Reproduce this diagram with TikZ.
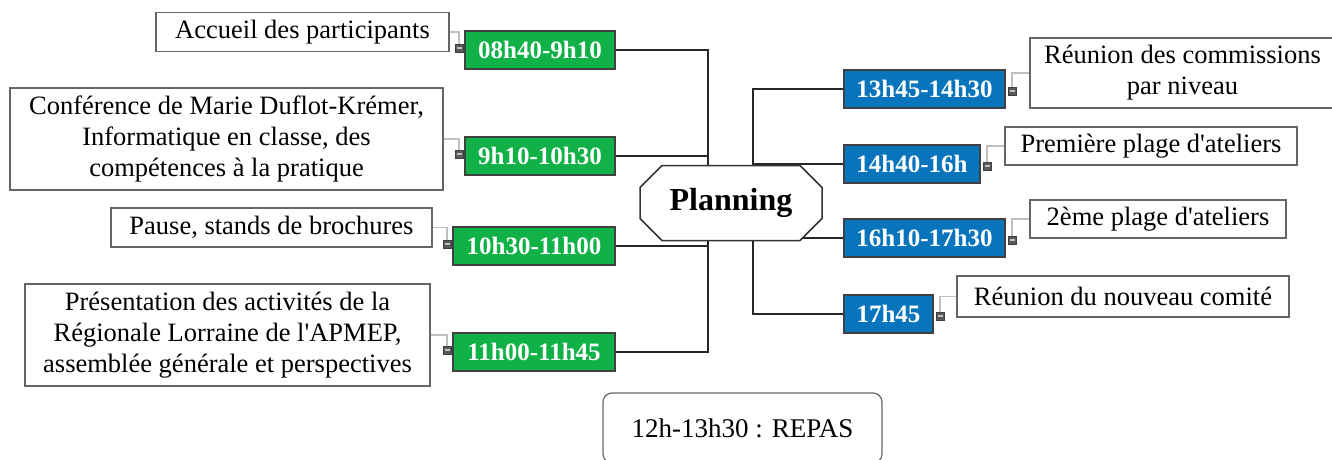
\documentclass[tikz,border=0pt]{standalone}
\usepackage{fontspec}
\setmainfont{Liberation Serif}
\newfontfamily\apfont{Liberation Serif}
\usetikzlibrary{shapes.misc,calc}
\definecolor{gfill}{RGB}{16,178,72}
\definecolor{bfill}{RGB}{8,116,188}
\newcommand\myapos{{\apfont'}}
\tikzset{
  txt/.style={draw=black!60, line width=1.2pt, fill=white, font=\fontsize{26.5}{31}\selectfont, align=center, inner sep=0pt},
  gbox/.style={draw=black!75, line width=1.2pt, fill=gfill, text=white, font=\fontsize{25}{28}\selectfont\bfseries, minimum height=38pt, inner sep=0pt},
  bbox/.style={gbox, fill=bfill},
  hdl/.style={draw=black!75, fill=black!65, minimum size=8pt, inner sep=0pt, line width=0.6pt},
  conn/.style={line width=2pt, black!85},
  lconn/.style={line width=1.3pt, black!25},
}
\begin{document}
\begin{tikzpicture}[x=1pt,y=-1pt]
\useasboundingbox (0,0) rectangle (1332,460);
% trunk coordinates
\coordinate (L1) at (708,50);
\coordinate (L2) at (708,156);
\coordinate (L3) at (708,246);
\coordinate (L4) at (708,352);
\coordinate (R1) at (753,89);
\coordinate (R2) at (753,164);
\coordinate (R3) at (753,238);
\coordinate (R4) at (753,314);
% green boxes
\node[gbox, minimum width=150pt] (g1) at (540,50) {08h40-9h10};
\node[gbox, minimum width=150pt] (g2) at (540,156) {9h10-10h30};
\node[gbox, minimum width=162pt] (g3) at (534,246) {10h30-11h00};
\node[gbox, minimum width=162pt] (g4) at (534,352) {11h00-11h45};
% blue boxes
\node[bbox, minimum width=161pt] (b1) at (924.5,89) {13h45-14h30};
\node[bbox, minimum width=136pt] (b2) at (912,164) {14h40-16h};
\node[bbox, minimum width=161pt] (b3) at (924.5,238) {16h10-17h30};
\node[bbox, minimum width=89pt] (b4) at (888.5,314) {17h45};
% trunks
\draw[conn] (g1.east) -- (L1) -- (L4) -- (g4.east);
\draw[conn] (g2.east) -- (L2);
\draw[conn] (g3.east) -- (L3);
\draw[conn] (b1.west) -- (R1) -- (R4) -- (b4.west);
\draw[conn] (b2.west) -- (R2);
\draw[conn] (b3.west) -- (R3);
% central node
\node[chamfered rectangle, chamfered rectangle xsep=11pt, chamfered rectangle ysep=11pt,
      draw=black!80, line width=1.5pt, fill=white,
      minimum width=182pt, minimum height=75pt, inner sep=0pt,
      font=\fontsize{32}{36}\selectfont\bfseries] (plan) at (731,203) {Planning};
% text boxes left
\node[txt, minimum width=293pt, minimum height=39pt] (t1) at (302.5,32) {Accueil des participants};
\node[txt, minimum width=433pt, minimum height=102pt] (t2) at (226.5,139) {Conférence de Marie Duflot-Krémer,\\Informatique en classe, des\\compétences à la pratique};
\node[txt, minimum width=321pt, minimum height=39pt] (t3) at (271.5,227.5) {Pause, stands de brochures};
\node[txt, minimum width=405pt, minimum height=102pt] (t4) at (227.5,335) {Présentation des activités de la\\Régionale Lorraine de l\myapos APMEP,\\assemblée générale et perspectives};
% text boxes right
\node[txt, minimum width=305pt, minimum height=70pt] (u1) at (1182.5,73) {Réunion des commissions\\par niveau};
\node[txt, minimum width=292pt, minimum height=38pt] (u2) at (1151,146) {Première plage d\myapos ateliers};
\node[txt, minimum width=256pt, minimum height=38pt] (u3) at (1158,219) {2ème plage d\myapos ateliers};
\node[txt, minimum width=332pt, minimum height=41pt] (u4) at (1123,296.5) {Réunion du nouveau comité};
% handles
\node[hdl] (h1) at (459,48) {};
\node[hdl] (h2) at (459,154) {};
\node[hdl] (h3) at (447,244) {};
\node[hdl] (h4) at (447,350) {};
\node[hdl] (k1) at (1012,91) {};
\node[hdl] (k2) at (987,166) {};
\node[hdl] (k3) at (1012,240) {};
\node[hdl] (k4) at (940,316) {};
% light connectors
\draw[lconn] (t1.east) -| (h1.north);
\draw[lconn] (t2.east) -| (h2.north);
\draw[lconn] (t3.east) -| (h3.north);
\draw[lconn] (t4.east) -| (h4.north);
\draw[lconn] (k1.north) |- (u1.west);
\draw[lconn] (k2.north) |- (u2.west);
\draw[lconn] (k3.north) |- (u3.west);
\draw[lconn] (k4.north) |- (u4.west);
% handle marks
\foreach \h in {h1,h2,h3,h4,k1,k2,k3,k4}{
  \fill[white!75!black] ($(\h.center)+(-2.5,-0.8)$) rectangle ($(\h.center)+(2.5,0.8)$);
}
% lunch
\node[draw=black!60, line width=1.2pt, rounded corners=9pt, fill=white, minimum width=279pt, minimum height=70pt,
      font=\fontsize{27}{30}\selectfont, inner sep=0pt] (repas) at (742.5,428) {12h-13h30 : REPAS};
\end{tikzpicture}
\end{document}
